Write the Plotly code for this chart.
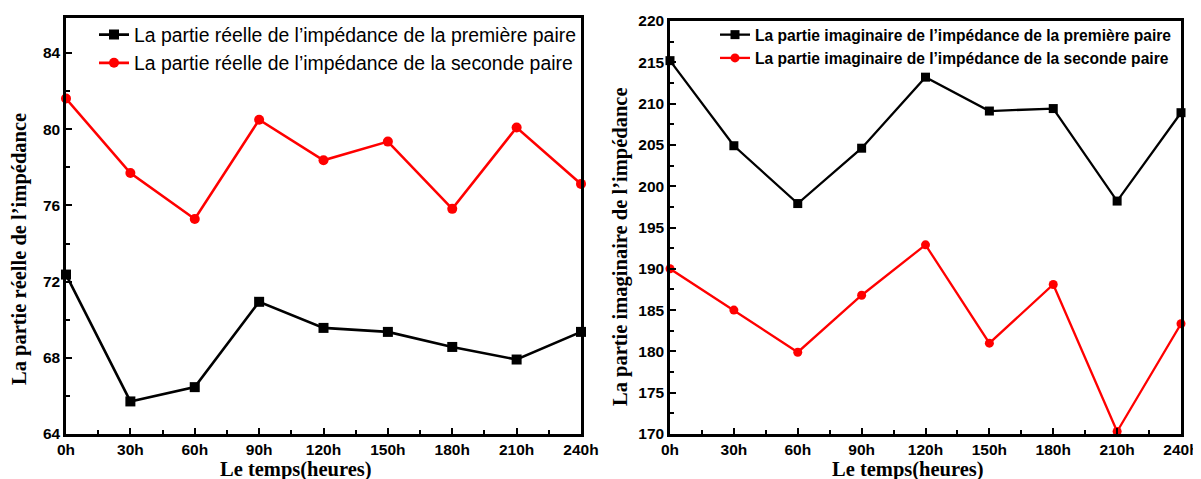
import plotly.graph_objects as go

hours = [0, 30, 60, 90, 120, 150, 180, 210, 240]
hour_labels = ["0h", "30h", "60h", "90h", "120h", "150h", "180h", "210h", "240h"]

real_pair1 = [72.37, 65.71, 66.46, 70.94, 69.57, 69.36, 68.57, 67.91, 69.36]
real_pair2 = [81.61, 77.70, 75.29, 80.50, 78.37, 79.35, 75.82, 80.09, 77.13]
imag_pair1 = [215.2, 204.9, 197.9, 204.6, 213.2, 209.1, 209.4, 198.2, 208.9]
imag_pair2 = [190.0, 185.0, 179.9, 186.8, 192.9, 181.0, 188.1, 170.3, 183.35]

name_r1 = "La partie réelle de l\u2019impédance de la première paire"
name_r2 = "La partie réelle de l\u2019impédance de la seconde paire"
name_i1 = "La partie imaginaire de l\u2019impédance de la première paire"
name_i2 = "La partie imaginaire de l\u2019impédance de la seconde paire"
x_title = "Le temps(heures)"
y_title_left = "La partie réelle de l\u2019impédance"
y_title_right = "La partie imaginaire de l\u2019impédance"

# page is drawn with an 8px body margin -> figure origin at (8, 8)
OFF = 8
W, H = 1201 - OFF, 479 - OFF


def px(x):
    return (x - OFF) / W


def py(y):
    return (H - (y - OFF)) / H


BLACK = "#000000"
RED = "#ff0000"

fig = go.Figure()
fig.add_trace(go.Scatter(x=hours, y=real_pair1, name=name_r1, mode="lines+markers",
                         line=dict(color=BLACK, width=2.6),
                         marker=dict(symbol="square", size=10, color=BLACK),
                         xaxis="x", yaxis="y", legend="legend", cliponaxis=False))
fig.add_trace(go.Scatter(x=hours, y=real_pair2, name=name_r2, mode="lines+markers",
                         line=dict(color=RED, width=2.6),
                         marker=dict(symbol="circle", size=10, color=RED),
                         xaxis="x", yaxis="y", legend="legend", cliponaxis=False))
fig.add_trace(go.Scatter(x=hours, y=imag_pair1, name=name_i1, mode="lines+markers",
                         line=dict(color=BLACK, width=2.3),
                         marker=dict(symbol="square", size=9, color=BLACK),
                         xaxis="x2", yaxis="y2", legend="legend2", cliponaxis=False))
fig.add_trace(go.Scatter(x=hours, y=imag_pair2, name=name_i2, mode="lines+markers",
                         line=dict(color=RED, width=2.3),
                         marker=dict(symbol="circle", size=9, color=RED),
                         xaxis="x2", yaxis="y2", legend="legend2", cliponaxis=False))

tickfont = dict(family="Liberation Sans, Arial, sans-serif", size=15.5, color=BLACK, weight="bold")
titlefont = dict(family="Liberation Serif, Times New Roman, serif", size=20.5, color=BLACK)


def xax(domain, anchor):
    return dict(domain=domain, anchor=anchor, range=[0, 240],
                tickvals=hours, ticktext=hour_labels,
                ticks="inside", ticklen=6, tickwidth=2, tickcolor=BLACK,
                minor=dict(ticks="inside", dtick=15, ticklen=4, tickwidth=2, tickcolor=BLACK),
                showline=True, linecolor=BLACK, linewidth=2.5, mirror=True,
                showgrid=False, zeroline=False, tickfont=tickfont,
                ticklabeloverflow="allow", automargin=False)


def yax(domain, anchor, rng, dtick, minor_dtick):
    return dict(domain=domain, anchor=anchor, range=rng, dtick=dtick, tick0=rng[0],
                ticks="inside", ticklen=6, tickwidth=2, tickcolor=BLACK,
                minor=dict(ticks="inside", dtick=minor_dtick, ticklen=4, tickwidth=2, tickcolor=BLACK),
                showline=True, linecolor=BLACK, linewidth=2.5, mirror=True,
                showgrid=False, zeroline=False, tickfont=tickfont,
                automargin=False)


annotations = [
    dict(text="<b>" + x_title + "</b>", x=px(296), y=py(469), xref="paper", yref="paper",
         xanchor="center", yanchor="middle", showarrow=False, font=titlefont),
    dict(text="<b>" + x_title + "</b>", x=px(908), y=py(469), xref="paper", yref="paper",
         xanchor="center", yanchor="middle", showarrow=False, font=titlefont),
    dict(text="<b>" + y_title_left + "</b>", x=px(19), y=py(249), xref="paper", yref="paper",
         xanchor="center", yanchor="middle", showarrow=False, textangle=-90, font=titlefont),
    dict(text="<b>" + y_title_right + "</b>", x=px(620), y=py(247), xref="paper", yref="paper",
         xanchor="center", yanchor="middle", showarrow=False, textangle=-90, font=titlefont),
]

fig.update_layout(
    width=W, height=H,
    margin=dict(l=0, r=0, t=0, b=0),
    paper_bgcolor="white", plot_bgcolor="white",
    xaxis=xax([px(66), px(581)], "y"),
    yaxis=yax([py(434), py(18)], "x", [64, 85.84], 4, 2),
    xaxis2=xax([px(670), px(1181)], "y2"),
    yaxis2=yax([py(434), py(21)], "x2", [170, 220], 5, 2.5),
    legend=dict(x=px(94), y=py(15.5), xanchor="left", yanchor="top",
                bgcolor="rgba(0,0,0,0)", borderwidth=0, tracegroupgap=0,
                font=dict(family="Liberation Sans, Arial, sans-serif", size=19.4, color=BLACK)),
    legend2=dict(x=px(715), y=py(18), xanchor="left", yanchor="top",
                 bgcolor="rgba(0,0,0,0)", borderwidth=0, tracegroupgap=0,
                 font=dict(family="Liberation Sans, Arial, sans-serif", size=15.6, color=BLACK,
                           weight="bold")),
    annotations=annotations,
    showlegend=True,
)

fig.write_html("out.html")
